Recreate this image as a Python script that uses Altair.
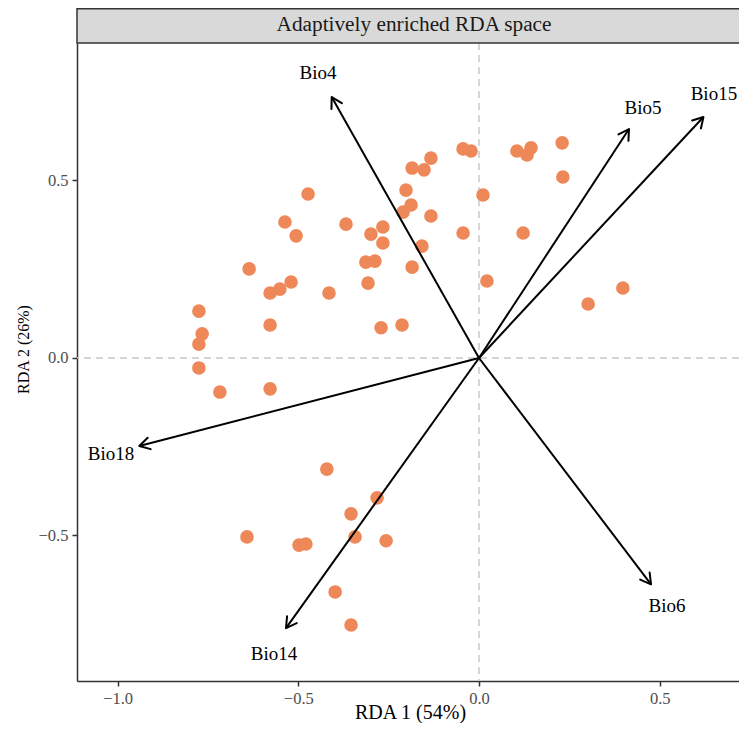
import altair as alt
import pandas as pd

# Site scores (RDA1, RDA2)
site_x = [-0.044, -0.022, 0.105, 0.144, 0.133, 0.230, 0.232, 0.011, -0.044, 0.122,
          0.022, 0.398, 0.302,
          -0.473, -0.537, -0.506, -0.636, -0.578, -0.551, -0.520, -0.415, -0.775, -0.766,
          -0.775, -0.578, -0.775, -0.368, -0.299, -0.266, -0.266, -0.313, -0.288, -0.307,
          -0.271, -0.213, -0.185, -0.158, -0.210, -0.188, -0.202, -0.185, -0.152, -0.133,
          -0.133,
          -0.717, -0.578, -0.421, -0.282, -0.354, -0.343, -0.257, -0.642, -0.498, -0.479,
          -0.398, -0.354]
site_y = [0.589, 0.583, 0.583, 0.592, 0.572, 0.606, 0.510, 0.459, 0.352, 0.352,
          0.217, 0.197, 0.152,
          0.462, 0.383, 0.344, 0.251, 0.183, 0.194, 0.214, 0.183, 0.132, 0.068,
          0.039, 0.093, -0.028, 0.377, 0.349, 0.369, 0.324, 0.270, 0.273, 0.211,
          0.085, 0.093, 0.256, 0.315, 0.411, 0.431, 0.473, 0.535, 0.530, 0.563,
          0.400,
          -0.096, -0.087, -0.313, -0.394, -0.439, -0.504, -0.515, -0.504, -0.527, -0.524,
          -0.659, -0.752]

# Environmental biplot arrows
var_names = ["Bio4", "Bio5", "Bio15", "Bio18", "Bio14", "Bio6"]
var_x = [-0.4076, 0.415, 0.621, -0.940, -0.534, 0.476]
var_y = [0.735, 0.645, 0.679, -0.248, -0.761, -0.6375]
lab_x = [-0.4455, 0.454, 0.650, -1.018, -0.567, 0.520]
lab_y = [0.804, 0.704, 0.744, -0.270, -0.834, -0.699]

strip_title = "Adaptively enriched RDA space"

W, H = 662, 638
XDOM = [-1.1123, 0.7194]
YDOM = [-0.9099, 0.8873]
FONT = "Liberation Serif"

sites = pd.DataFrame({"RDA1": site_x, "RDA2": site_y})
arrows = pd.DataFrame({"name": var_names, "x": var_x, "y": var_y,
                       "lx": lab_x, "ly": lab_y, "x0": 0.0, "y0": 0.0})
zero = pd.DataFrame({"z": [0.0]})

xs = alt.Scale(domain=XDOM, nice=False, zero=False)
ys = alt.Scale(domain=YDOM, nice=False, zero=False)

xax = alt.Axis(values=[-1.0, -0.5, 0.0, 0.5], format=".1f", title="RDA 1 (54%)",
               titleY=37.5, titleX=333, titleAlign="center", titleBaseline="alphabetic",
               titleFontSize=20, labelPadding=4)
yax = alt.Axis(values=[-0.5, 0.0, 0.5], format=".1f", title="RDA 2 (26%)",
               titleFontSize=16, titleX=-46, titleY=306, titleAngle=270,
               titleAlign="center", titleBaseline="bottom", labelPadding=4)

base_x = alt.X("RDA1:Q", scale=xs, axis=xax)
base_y = alt.Y("RDA2:Q", scale=ys, axis=yax)

vline = alt.Chart(zero).mark_rule(color="#c8c8c8", strokeWidth=1.5, strokeDash=[7, 5]).encode(
    x=alt.X("z:Q", scale=xs, axis=xax))
hline = alt.Chart(zero).mark_rule(color="#c8c8c8", strokeWidth=1.5, strokeDash=[7, 5]).encode(
    y=alt.Y("z:Q", scale=ys, axis=yax))

points = alt.Chart(sites).mark_circle(size=185, color="#EE8859", opacity=1).encode(
    x=base_x, y=base_y)

shafts = alt.Chart(arrows).mark_rule(color="black", strokeWidth=2).encode(
    x=alt.X("x0:Q", scale=xs, axis=xax), y=alt.Y("y0:Q", scale=ys, axis=yax),
    x2="x:Q", y2="y:Q")

heads = alt.Chart(arrows).transform_calculate(
    ang="(atan2(datum.x, datum.y) * 180 / PI + 360) % 360"
).mark_point(
    shape="M-0.5,0.866L0,0L0.5,0.866", filled=False, size=560,
    color="black", strokeWidth=2, opacity=1, strokeCap="round", strokeJoin="round"
).encode(
    x=alt.X("x:Q", scale=xs, axis=xax), y=alt.Y("y:Q", scale=ys, axis=yax),
    angle=alt.Angle("ang:Q", scale=None))

labels = alt.Chart(arrows).mark_text(font=FONT, fontSize=19, color="black",
                                      align="center", baseline="middle").encode(
    x=alt.X("lx:Q", scale=xs, axis=xax), y=alt.Y("ly:Q", scale=ys, axis=yax),
    text="name:N")

strip_box = alt.Chart(zero).mark_rect(fill="#d9d9d9", stroke="#333333", strokeWidth=1.5).encode(
    x=alt.value(0), x2=alt.value(W + 20), y=alt.value(-34.2), y2=alt.value(0))
strip_text = alt.Chart(zero).mark_text(font=FONT, fontSize=21.3, color="#1a1a1a",
                                        align="center", baseline="middle").encode(
    x=alt.value(337), y=alt.value(-18), text=alt.value(strip_title))

chart = alt.layer(vline, hline, points, shafts, heads, labels, strip_box, strip_text).properties(
    width=W, height=H,
    autosize=alt.AutoSizeParams(type="none"),
    padding={"left": 69, "top": 35, "right": 0, "bottom": 42},
).configure_view(stroke=None).configure_axis(
    grid=False, domainColor="#333333", domainWidth=1.5, tickColor="#333333",
    tickWidth=1.5, tickSize=5, labelFont=FONT, labelFontSize=16.5, labelColor="#4d4d4d",
    titleFont=FONT, titleColor="black", titleFontWeight="normal",
)

chart.save("out.html", embed_options={"renderer": "svg", "actions": False})
